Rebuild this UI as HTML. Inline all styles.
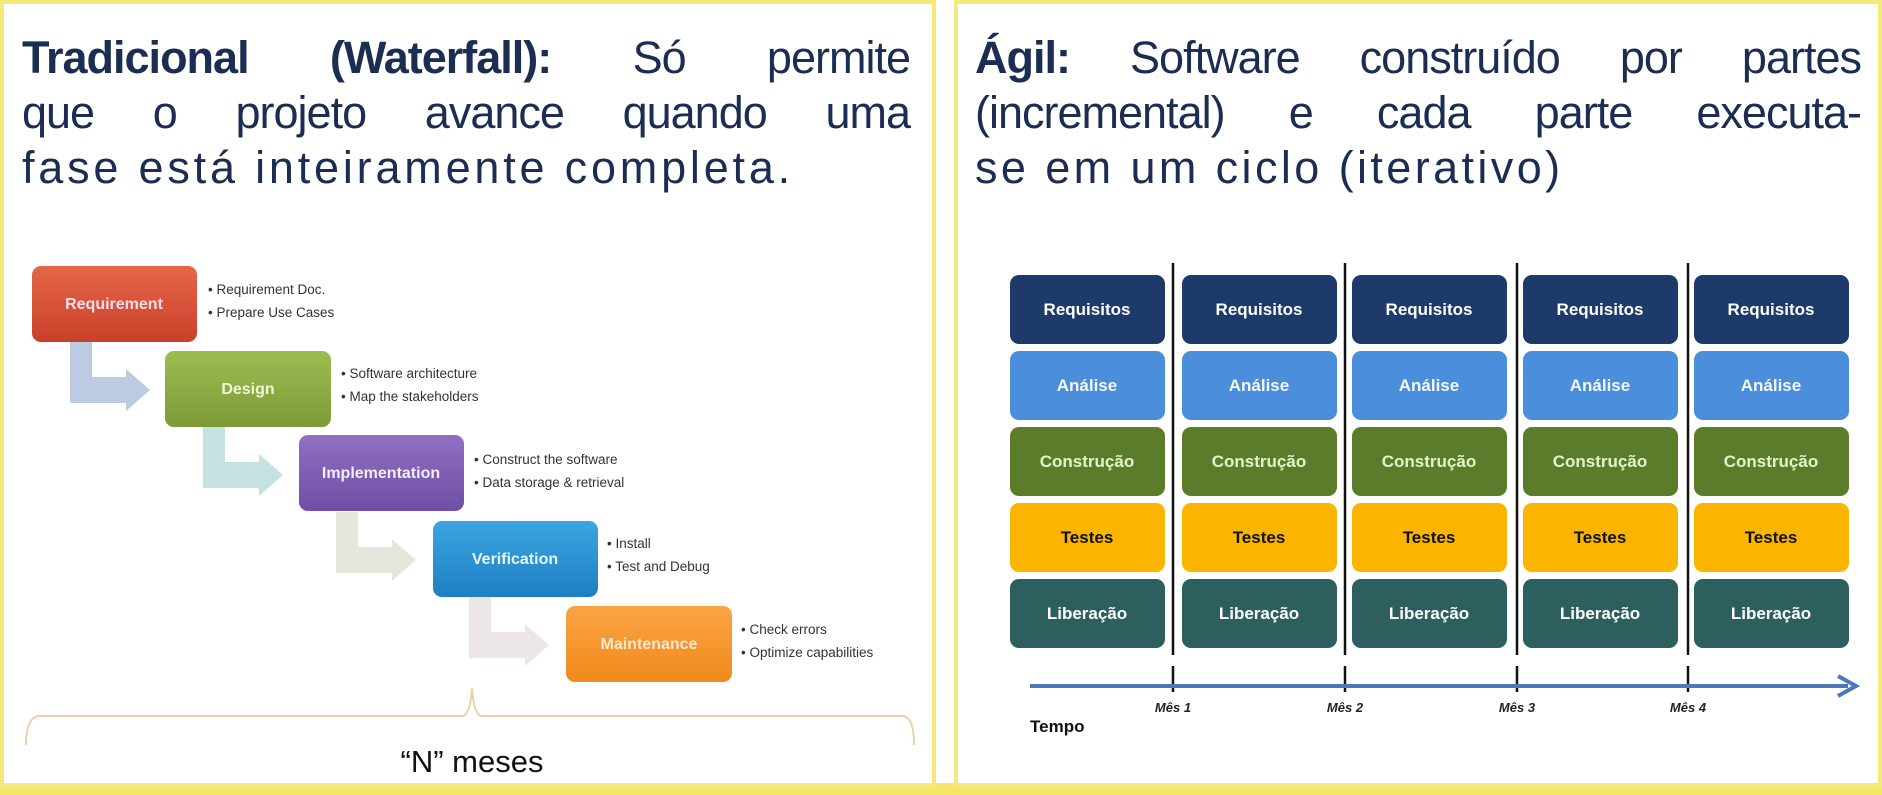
<!DOCTYPE html>
<html><head><meta charset="utf-8"><style>
html,body{margin:0;padding:0;background:#fff;}
body{width:1882px;height:795px;position:relative;overflow:hidden;font-family:"Liberation Sans",sans-serif;}
.panel{position:absolute;top:0;height:787px;border:4px solid #f3ea7a;box-sizing:border-box;background:#fff;}
.title{position:absolute;color:#1b2d52;font-size:45px;line-height:55px;letter-spacing:-1px;}
.title div{text-align:justify;text-align-last:justify;white-space:nowrap;}
.title div.last{text-align-last:left;}
.title b{font-weight:bold;}
</style></head><body>
<div style="position:absolute;left:0;top:783px;width:1882px;height:12px;background:#f5e66a"></div>
<div class="panel" style="left:0;width:936px;"></div>
<div class="panel" style="left:954px;width:928px;"></div>
<div class="title" style="left:22px;top:30px;width:888px;">
<div><b>Tradicional (Waterfall):</b> Só permite</div>
<div>que o projeto avance quando uma</div>
<div class="last" style="letter-spacing:3.8px">fase está inteiramente completa.</div>
</div>
<div class="title" style="left:975px;top:30px;width:886px;">
<div><b>Ágil:</b> Software construído por partes</div>
<div>(incremental) e cada parte executa-</div>
<div class="last" style="letter-spacing:3.4px">se em um ciclo (iterativo)</div>
</div>
<svg style="position:absolute;left:0;top:0" width="1882" height="795" font-family="Liberation Sans, sans-serif">
<defs>
<linearGradient id="g1" x1="0" y1="0" x2="0" y2="1"><stop offset="0" stop-color="#e5674a"/><stop offset="1" stop-color="#c9402a"/></linearGradient>
<linearGradient id="g2" x1="0" y1="0" x2="0" y2="1"><stop offset="0" stop-color="#9cbd52"/><stop offset="1" stop-color="#7d9a38"/></linearGradient>
<linearGradient id="g3" x1="0" y1="0" x2="0" y2="1"><stop offset="0" stop-color="#9170c4"/><stop offset="1" stop-color="#6f4fa3"/></linearGradient>
<linearGradient id="g4" x1="0" y1="0" x2="0" y2="1"><stop offset="0" stop-color="#3aa6e0"/><stop offset="1" stop-color="#1f7fc4"/></linearGradient>
<linearGradient id="g5" x1="0" y1="0" x2="0" y2="1"><stop offset="0" stop-color="#fba444"/><stop offset="1" stop-color="#f08a1c"/></linearGradient>
</defs>
<g>
<path d="M70,342 h22 v35 h34 v-8 l24,21 l-24,21 v-8 h-56 z" fill="#bccbe2"/>
<path d="M203,427 h22 v35 h34 v-8 l24,21 l-24,21 v-8 h-56 z" fill="#c5e2e0"/>
<path d="M336,512 h22 v35 h34 v-8 l24,21 l-24,21 v-8 h-56 z" fill="#e4e8dc"/>
<path d="M469,597 h22 v35 h34 v-8 l24,21 l-24,21 v-8 h-56 z" fill="#ece6ea"/>
</g>
<g font-weight="bold" font-size="16" fill="#fff" text-anchor="middle">
<rect x="32" y="266" width="165" height="76" rx="9" fill="url(#g1)"/><text x="114" y="309" fill="#fde">Requirement</text>
<rect x="165" y="351" width="166" height="76" rx="9" fill="url(#g2)"/><text x="248" y="394" fill="#eef7d8">Design</text>
<rect x="299" y="435" width="165" height="76" rx="9" fill="url(#g3)"/><text x="381" y="478" fill="#f3eefc">Implementation</text>
<rect x="433" y="521" width="165" height="76" rx="9" fill="url(#g4)"/><text x="515" y="564" fill="#eaf6ff">Verification</text>
<rect x="566" y="606" width="166" height="76" rx="9" fill="url(#g5)"/><text x="649" y="649" fill="#ffe9cc">Maintenance</text>
</g>
<g font-size="13.5" fill="#333">
<text x="208" y="294">• Requirement Doc.</text><text x="208" y="317">• Prepare Use Cases</text>
<text x="341" y="378">• Software architecture</text><text x="341" y="401">• Map the stakeholders</text>
<text x="474" y="464">• Construct the software</text><text x="474" y="487">• Data storage &amp; retrieval</text>
<text x="607" y="548">• Install</text><text x="607" y="571">• Test and Debug</text>
<text x="741" y="634">• Check errors</text><text x="741" y="657">• Optimize capabilities</text>
</g>
<path d="M26,745 Q26,716 40,716 L462,716 Q470,716 472,688 Q474,716 482,716 L902,716 Q914,716 914,745" fill="none" stroke="#ecd0a8" stroke-width="2"/>
<text x="472" y="772" font-size="31" text-anchor="middle" fill="#111">“N” meses</text>
<g id="cols" font-weight="bold" font-size="17" text-anchor="middle"></g>
<g stroke="#111" stroke-width="2.5">
<line x1="1173" y1="263" x2="1173" y2="655"/><line x1="1173" y1="666" x2="1173" y2="692"/>
<line x1="1345" y1="263" x2="1345" y2="655"/><line x1="1345" y1="666" x2="1345" y2="692"/>
<line x1="1517" y1="263" x2="1517" y2="655"/><line x1="1517" y1="666" x2="1517" y2="692"/>
<line x1="1688" y1="263" x2="1688" y2="655"/><line x1="1688" y1="666" x2="1688" y2="692"/>
</g>
<line x1="1030" y1="686" x2="1848" y2="686" stroke="#4a78b8" stroke-width="4"/>
<path d="M1838,676 L1856,686 L1838,696" fill="none" stroke="#4a78b8" stroke-width="4"/>
<g font-size="13" font-weight="bold" font-style="italic" fill="#222" text-anchor="middle">
<text x="1173" y="712">Mês 1</text><text x="1345" y="712">Mês 2</text><text x="1517" y="712">Mês 3</text><text x="1688" y="712">Mês 4</text>
</g>
<text x="1030" y="732" font-size="17" font-weight="bold" fill="#111">Tempo</text>
</svg>
<script>
(function(){
var g=document.getElementById('cols');var ns='http://www.w3.org/2000/svg';
var xs=[1010,1182,1352,1523,1694];
var rows=[[275,'#1d3a6b','Requisitos','#fff'],[351,'#4b8edb','Análise','#f2f8ff'],[427,'#5b7d2b','Construção','#e4f4c8'],[503,'#fbb500','Testes','#111'],[579,'#2c5f5d','Liberação','#fff']];
xs.forEach(function(x){rows.forEach(function(r){
var rc=document.createElementNS(ns,'rect');rc.setAttribute('x',x);rc.setAttribute('y',r[0]);rc.setAttribute('width',155);rc.setAttribute('height',69);rc.setAttribute('rx',9);rc.setAttribute('fill',r[1]);g.appendChild(rc);
var t=document.createElementNS(ns,'text');t.setAttribute('x',x+77);t.setAttribute('y',r[0]+40);t.setAttribute('fill',r[3]);t.textContent=r[2];g.appendChild(t);
});});
})();
</script>
</body></html>
